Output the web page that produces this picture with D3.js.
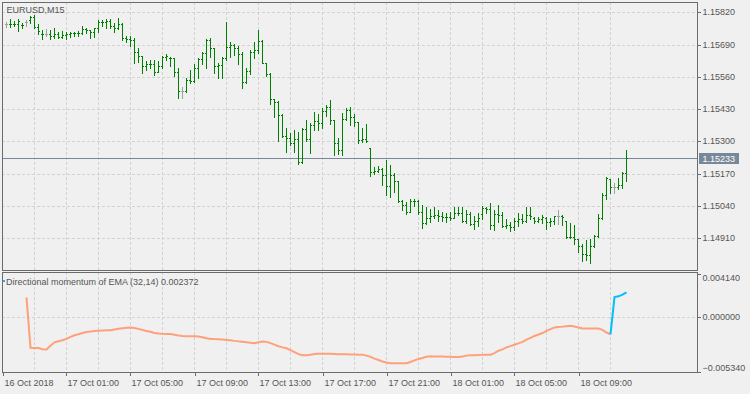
<!DOCTYPE html>
<html>
<head>
<meta charset="utf-8">
<script src="https://cdn.jsdelivr.net/npm/d3@7"></script>
<style>
  body { margin: 0; background: #f0f0f0; }
  svg { display: block; font-family: "Liberation Sans", Arial, sans-serif; font-size: 9px; }
</style>
</head>
<body>
<svg width="750" height="394"></svg>
<script>

/*
 * Chart data.
 * Bar index 1 is the first visible bar (16 Oct 21:15), one bar per 15 minutes.
 */
var symbolLabel = "EURUSD,M15";
var indicatorLabel = "Directional momentum of EMA (32,14) 0.002372";
var lastPrice = 1.15233;
var firstBar = 1;

var open = [
  1.15772,1.15771,1.15771,1.15772,1.15769,1.15782,1.15789,1.15803,1.15761,1.15734,
  1.15731,1.15731,1.15726,1.15731,1.15721,1.15729,1.15734,1.15737,1.15735,1.15737,
  1.15753,1.15748,1.15742,1.15757,1.15782,1.15780,1.15785,1.15766,1.15758,1.15772,
  1.15715,1.15712,1.15710,1.15661,1.15643,1.15605,1.15611,1.15613,1.15581,1.15605,
  1.15641,1.15634,1.15636,1.15578,1.15503,1.15503,1.15547,1.15543,1.15597,1.15632,
  1.15655,1.15708,1.15675,1.15605,1.15608,1.15637,1.15681,1.15688,1.15675,1.15651,
  1.15538,1.15584,1.15661,1.15668,1.15704,1.15615,1.15570,1.15471,1.15457,1.15406,
  1.15323,1.15315,1.15292,1.15309,1.15218,1.15350,1.15309,1.15366,1.15382,1.15373,
  1.15422,1.15440,1.15386,1.15292,1.15265,1.15390,1.15426,1.15399,1.15379,1.15305,
  1.15309,1.15274,1.15178,1.15181,1.15189,1.15162,1.15121,1.15164,1.15140,1.15060,
  1.15043,1.15014,1.15060,1.15058,1.15014,1.14970,1.14992,1.15000,1.15003,1.15000,
  1.14996,1.14995,1.14992,1.15010,1.15011,1.14979,1.15006,1.14965,1.14980,1.15005,
  1.15030,1.15026,1.14963,1.15007,1.15003,1.14959,1.14963,1.14954,1.14980,1.14986,
  1.14980,1.15003,1.14990,1.14980,1.14986,1.14990,1.14976,1.14978,1.14997,1.14997,
  1.14980,1.14913,1.14915,1.14905,1.14878,1.14846,1.14842,1.14878,1.14919,1.14990,
  1.15084,1.15146,1.15115,1.15115,1.15124,1.15174
];
var high = [
  1.15782,1.15793,1.15785,1.15793,1.15776,1.15789,1.15806,1.15809,1.15772,1.15749,
  1.15752,1.15749,1.15758,1.15742,1.15745,1.15739,1.15742,1.15742,1.15745,1.15766,
  1.15756,1.15749,1.15758,1.15789,1.15788,1.15793,1.15793,1.15776,1.15796,1.15776,
  1.15726,1.15726,1.15718,1.15677,1.15645,1.15624,1.15628,1.15628,1.15624,1.15645,
  1.15651,1.15641,1.15637,1.15594,1.15520,1.15557,1.15588,1.15611,1.15637,1.15659,
  1.15712,1.15718,1.15675,1.15615,1.15641,1.15780,1.15702,1.15691,1.15685,1.15659,
  1.15597,1.15668,1.15702,1.15749,1.15708,1.15615,1.15574,1.15471,1.15463,1.15409,
  1.15353,1.15332,1.15346,1.15339,1.15353,1.15386,1.15373,1.15419,1.15410,1.15433,
  1.15446,1.15467,1.15386,1.15312,1.15413,1.15436,1.15440,1.15409,1.15379,1.15355,
  1.15369,1.15274,1.15198,1.15202,1.15191,1.15225,1.15205,1.15171,1.15140,1.15064,
  1.15057,1.15068,1.15068,1.15064,1.15043,1.15037,1.15027,1.15037,1.15023,1.15016,
  1.15010,1.15014,1.15033,1.15033,1.15037,1.15023,1.15014,1.15000,1.15010,1.15039,
  1.15037,1.15053,1.15023,1.15043,1.15016,1.14986,1.14976,1.14990,1.15012,1.15007,
  1.15037,1.15037,1.14994,1.14994,1.15003,1.14994,1.14990,1.14999,1.15023,1.15003,
  1.14980,1.14970,1.14963,1.14905,1.14886,1.14902,1.14905,1.14923,1.15007,1.15093,
  1.15155,1.15147,1.15133,1.15151,1.15178,1.15265
];
var low = [
  1.15762,1.15762,1.15766,1.15746,1.15758,1.15766,1.15776,1.15756,1.15731,1.15712,
  1.15726,1.15711,1.15715,1.15715,1.15715,1.15711,1.15721,1.15726,1.15726,1.15731,
  1.15737,1.15715,1.15722,1.15742,1.15766,1.15758,1.15756,1.15739,1.15753,1.15708,
  1.15702,1.15685,1.15615,1.15619,1.15574,1.15588,1.15594,1.15567,1.15581,1.15597,
  1.15628,1.15605,1.15565,1.15476,1.15476,1.15500,1.15534,1.15540,1.15557,1.15611,
  1.15597,1.15641,1.15574,1.15557,1.15557,1.15628,1.15641,1.15648,1.15611,1.15516,
  1.15534,1.15570,1.15635,1.15655,1.15615,1.15565,1.15449,1.15399,1.15301,1.15319,
  1.15258,1.15285,1.15258,1.15208,1.15212,1.15301,1.15252,1.15346,1.15346,1.15355,
  1.15403,1.15369,1.15245,1.15248,1.15245,1.15386,1.15366,1.15363,1.15292,1.15296,
  1.15299,1.15158,1.15167,1.15175,1.15124,1.15084,1.15077,1.15097,1.15057,1.15023,
  1.15006,1.15014,1.15041,1.15006,1.14952,1.14966,1.14976,1.14992,1.14979,1.14979,
  1.14976,1.14983,1.14990,1.15003,1.14974,1.14970,1.14963,1.14946,1.14959,1.14986,
  1.15010,1.14946,1.14943,1.14976,1.14956,1.14950,1.14940,1.14943,1.14959,1.14972,
  1.14976,1.14986,1.14972,1.14976,1.14972,1.14946,1.14959,1.14967,1.14967,1.14963,
  1.14909,1.14909,1.14886,1.14855,1.14819,1.14822,1.14811,1.14873,1.14916,1.14986,
  1.15066,1.15091,1.15091,1.15107,1.15111,1.15141
];
var close = [
  1.15772,1.15773,1.15773,1.15785,1.15767,1.15782,1.15803,1.15761,1.15745,1.15731,
  1.15731,1.15726,1.15731,1.15721,1.15729,1.15731,1.15737,1.15735,1.15737,1.15753,
  1.15748,1.15742,1.15757,1.15782,1.15780,1.15785,1.15766,1.15758,1.15772,1.15715,
  1.15712,1.15710,1.15661,1.15645,1.15605,1.15611,1.15613,1.15581,1.15605,1.15641,
  1.15645,1.15636,1.15578,1.15503,1.15503,1.15547,1.15543,1.15597,1.15632,1.15655,
  1.15708,1.15675,1.15605,1.15608,1.15637,1.15681,1.15688,1.15675,1.15651,1.15538,
  1.15584,1.15661,1.15668,1.15704,1.15617,1.15570,1.15471,1.15457,1.15406,1.15323,
  1.15315,1.15292,1.15309,1.15218,1.15350,1.15309,1.15366,1.15382,1.15373,1.15422,
  1.15440,1.15386,1.15292,1.15265,1.15390,1.15426,1.15399,1.15379,1.15305,1.15309,
  1.15301,1.15178,1.15181,1.15189,1.15162,1.15121,1.15164,1.15140,1.15060,1.15043,
  1.15014,1.15060,1.15058,1.15014,1.14970,1.14992,1.15000,1.15003,1.15000,1.14996,
  1.14995,1.14992,1.15010,1.15011,1.14979,1.15006,1.14965,1.14980,1.14990,1.15030,
  1.15026,1.14963,1.15007,1.15003,1.14959,1.14963,1.14954,1.14980,1.14986,1.14980,
  1.15003,1.14999,1.14980,1.14986,1.14996,1.14976,1.14978,1.14997,1.14997,1.14995,
  1.14913,1.14915,1.14905,1.14878,1.14846,1.14842,1.14878,1.14919,1.14990,1.15084,
  1.15151,1.15115,1.15115,1.15124,1.15174,1.15233
];

// indicator values, bar 6 .. bar 156; salmon up to bar 152, blue after it
var momentumStart = 6;
var momentumTurn = 152;
var momentum = [
  0.001883,-0.002995,-0.003024,-0.003024,-0.003138,-0.003157,-0.002805,-0.002472,-0.002358,-0.002263,
  -0.002139,-0.001949,-0.001788,-0.001683,-0.001569,-0.001474,-0.001426,-0.001369,-0.001350,-0.001331,
  -0.001312,-0.001303,-0.001236,-0.001160,-0.001112,-0.001065,-0.001046,-0.001084,-0.001169,-0.001284,
  -0.001369,-0.001455,-0.001569,-0.001626,-0.001645,-0.001654,-0.001664,-0.001740,-0.001816,-0.001854,
  -0.001873,-0.001883,-0.001892,-0.001902,-0.001978,-0.002073,-0.002139,-0.002158,-0.002168,-0.002196,
  -0.002234,-0.002272,-0.002329,-0.002377,-0.002425,-0.002472,-0.002520,-0.002548,-0.002453,-0.002396,
  -0.002425,-0.002548,-0.002691,-0.002852,-0.002957,-0.003043,-0.003233,-0.003423,-0.003613,-0.003727,
  -0.003708,-0.003661,-0.003594,-0.003566,-0.003566,-0.003566,-0.003566,-0.003594,-0.003632,-0.003632,
  -0.003632,-0.003642,-0.003651,-0.003661,-0.003661,-0.003756,-0.003879,-0.004041,-0.004184,-0.004326,
  -0.004421,-0.004488,-0.004488,-0.004488,-0.004488,-0.004488,-0.004374,-0.004212,-0.004088,-0.003993,
  -0.003870,-0.003822,-0.003832,-0.003851,-0.003851,-0.003870,-0.003870,-0.003879,-0.003879,-0.003832,
  -0.003756,-0.003727,-0.003708,-0.003689,-0.003680,-0.003661,-0.003661,-0.003518,-0.003280,-0.003157,
  -0.002957,-0.002833,-0.002710,-0.002567,-0.002425,-0.002215,-0.002044,-0.001854,-0.001711,-0.001569,
  -0.001360,-0.001189,-0.001027,-0.000979,-0.000951,-0.000913,-0.000875,-0.000932,-0.001027,-0.001122,
  -0.001131,-0.001131,-0.001131,-0.001131,-0.001265,-0.001521,-0.001692,
  0.001902,0.001978,0.002139,0.002372
];

var priceTicks = [1.15820,1.15690,1.15560,1.15430,1.15300,1.15170,1.15040,1.14910];
var momentumTicks = [0.004140,0.000000,-0.005340];
var timeTicks = [0,16,32,48,64,80,96,112,128,144];
var timeLabels = ["16 Oct 2018","17 Oct 01:00","17 Oct 05:00","17 Oct 09:00","17 Oct 13:00",
                  "17 Oct 17:00","17 Oct 21:00","18 Oct 01:00","18 Oct 05:00","18 Oct 09:00"];

/*
 * Layout
 */
var svg = d3.select("svg");
var left = 2, right = 697;
var main = {top: 2, bottom: 270};
var sub = {top: 272, bottom: 372};
var textColor = "#555", frameColor = "#6b6b6b", gridColor = "#d2d2d2";
var barColor = "#008000", flatColor = "#a0a0a0";

var x = d3.scaleLinear().domain([0, 156]).range([2.5, 626.5]);
var y = d3.scaleLinear().domain([1.14910, 1.15820]).range([238, 12.3]);
var ym = d3.scaleLinear().domain([-0.005340, 0.004140]).range([372, 274]);
var yr = y.copy().interpolate(d3.interpolateRound);
var ymr = ym.copy().interpolate(d3.interpolateRound);

var bars = open.map(function(o, i) {
  return {k: firstBar + i, o: o, h: high[i], l: low[i], c: close[i]};
});

/*
 * Grid
 */
var grid = svg.append("g")
  .attr("stroke", gridColor)
  .attr("stroke-dasharray", "3,2")
  .attr("shape-rendering", "crispEdges");

grid.selectAll("line.v")
  .data(d3.range(8, 157, 8))
  .enter().append("line")
    .attr("x1", function(d) { return x(d); })
    .attr("x2", function(d) { return x(d); })
    .attr("y1", main.top).attr("y2", sub.bottom);

grid.selectAll("line.h")
  .data(priceTicks)
  .enter().append("line")
    .attr("x1", left).attr("x2", right)
    .attr("y1", function(d) { return yr(d) + 0.5; })
    .attr("y2", function(d) { return yr(d) + 0.5; });

grid.append("line")
  .attr("x1", left).attr("x2", right)
  .attr("y1", ymr(0) + 0.5).attr("y2", ymr(0) + 0.5);

// gap between the two panes
svg.append("rect")
  .attr("x", left).attr("y", main.bottom + 0.5)
  .attr("width", right - left).attr("height", sub.top - main.bottom - 0.5)
  .attr("fill", "#f0f0f0");

/*
 * Current price line
 */
svg.append("line")
  .attr("x1", left).attr("x2", right)
  .attr("y1", yr(lastPrice) + 0.5).attr("y2", yr(lastPrice) + 0.5)
  .attr("stroke", "#778899");

/*
 * OHLC bars
 */
var g = svg.append("g").attr("shape-rendering", "crispEdges");
var bar = g.selectAll("g").data(bars).enter().append("g")
  .attr("fill", function(d) { return d.o === d.c ? flatColor : barColor; });

bar.append("rect")
  .attr("x", function(d) { return x(d.k) - 0.5; })
  .attr("y", function(d) { return yr(d.h); })
  .attr("width", 1)
  .attr("height", function(d) { return Math.max(1, yr(d.l) - yr(d.h) + 1); });
bar.append("rect")
  .attr("x", function(d) { return x(d.k) - 1.5; })
  .attr("y", function(d) { return yr(d.o); })
  .attr("width", 1).attr("height", 1);
bar.append("rect")
  .attr("x", function(d) { return x(d.k) + 0.5; })
  .attr("y", function(d) { return yr(d.c); })
  .attr("width", 1).attr("height", 1);

/*
 * Indicator line
 */
var pts = momentum.map(function(v, i) { return {k: momentumStart + i, v: v}; });
var line = d3.line()
  .x(function(d) { return x(d.k); })
  .y(function(d) { return ym(d.v); });

svg.append("path")
  .datum(pts.filter(function(d) { return d.k <= momentumTurn; }))
  .attr("d", line)
  .attr("fill", "none").attr("stroke", "#ffa07a").attr("stroke-width", 2);
svg.append("path")
  .datum(pts.filter(function(d) { return d.k >= momentumTurn; }))
  .attr("d", line)
  .attr("fill", "none").attr("stroke", "#00bfff").attr("stroke-width", 2);

/*
 * Frames
 */
[main, sub].forEach(function(p) {
  svg.append("rect")
    .attr("x", left + 0.5).attr("y", p.top + 0.5)
    .attr("width", right - left).attr("height", p.bottom - p.top)
    .attr("fill", "none").attr("stroke", frameColor)
    .attr("shape-rendering", "crispEdges");
});

/*
 * Axes
 */
function styleAxis(sel) {
  sel.select(".domain").remove();
  sel.selectAll("line").attr("stroke", frameColor).attr("shape-rendering", "crispEdges");
  sel.selectAll("text").attr("fill", textColor)
    .attr("font-family", "\"Liberation Sans\", Arial, sans-serif").attr("font-size", 9);
}

svg.append("g")
  .attr("transform", "translate(" + (right + 0.5) + ",0)")
  .call(d3.axisRight(yr).tickValues(priceTicks).tickSize(3).tickPadding(2)
    .tickFormat(d3.format(".5f")))
  .call(styleAxis);

var ma = svg.append("g")
  .attr("transform", "translate(" + (right + 0.5) + ",0)")
  .call(d3.axisRight(ymr).tickValues(momentumTicks).tickSize(3).tickPadding(2)
    .tickFormat(d3.format(".6f")))
  .call(styleAxis);
ma.selectAll("text").attr("dy", function(d) {
  return d === momentumTicks[0] ? "6.5" : d === momentumTicks[2] ? "-1.5" : "0.32em";
});

svg.append("g")
  .attr("transform", "translate(0," + (sub.bottom + 0.5) + ")")
  .call(d3.axisBottom(x.copy().interpolate(d3.interpolateRound)).tickValues(timeTicks).tickSize(3)
    .tickFormat(function(d, i) { return timeLabels[i]; }))
  .call(styleAxis)
  .selectAll("text")
    .attr("text-anchor", "start")
    .attr("x", 1).attr("y", 13).attr("dy", 0);

// current price label on the axis
svg.append("rect")
  .attr("x", right + 2).attr("y", yr(lastPrice) - 5)
  .attr("width", 40).attr("height", 11)
  .attr("fill", "#778899");
svg.append("text")
  .attr("x", right + 5.5).attr("y", yr(lastPrice) + 3.5)
  .attr("fill", "#fff")
  .text(d3.format(".5f")(lastPrice));

/*
 * Titles
 */
svg.append("text")
  .attr("x", 6.5).attr("y", 12.5)
  .attr("fill", textColor)
  .text(symbolLabel);

svg.append("rect")
  .attr("x", 3).attr("y", 280).attr("width", 2).attr("height", 2)
  .attr("fill", "#00bfff");
svg.append("text")
  .attr("x", 6).attr("y", 284.5)
  .attr("fill", textColor)
  .text(indicatorLabel);

</script>
</body>
</html>
